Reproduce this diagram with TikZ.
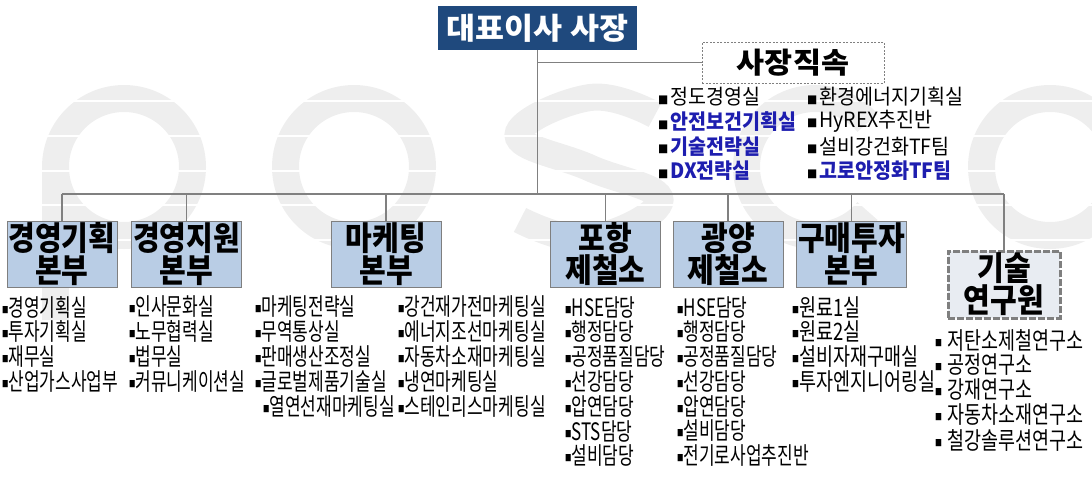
\documentclass[tikz,border=0pt]{standalone}
\usepackage{fontspec}
\usepackage{xcolor}
\usetikzlibrary{positioning}

\newfontfamily\krtop{Noto Sans CJK KR}[FakeStretch=1.05]
\newfontfamily\krhead{Noto Sans CJK KR}[FakeStretch=0.88]
\newfontfamily\krstaff{Noto Sans CJK KR}[FakeStretch=0.93]
\newfontfamily\krlist{Noto Sans CJK KR}[FakeStretch=0.71]
\newfontfamily\krwide{Noto Sans CJK KR}[FakeStretch=0.77]

\definecolor{ceoblue}{RGB}{31,73,125}
\definecolor{boxblue}{RGB}{185,205,229}
\definecolor{boxline}{RGB}{127,127,127}
\definecolor{rdfill}{RGB}{232,236,242}
\definecolor{staffblue}{RGB}{30,30,175}
\definecolor{linegray}{RGB}{128,128,128}
\definecolor{wmgray}{RGB}{238,238,238}

\newcommand\bul{\raisebox{3pt}{\fontsize{9}{9}\selectfont ■}}
\newcommand\sbul{\raisebox{0.5pt}{\fontsize{11}{11}\selectfont ■}\hspace{2pt}}
\newcommand\hl[1]{{\bfseries\color{staffblue}#1}}
\setlength{\lineskiplimit}{-100pt}

\begin{document}
\begin{tikzpicture}[
  x=1pt, y=-1pt,
  ceo/.style={
    rectangle,
    fill=ceoblue,
    text=white,
    inner sep=0pt,
    minimum width=199,
    minimum height=44,
    font=\krtop\bfseries\fontsize{30}{32}\selectfont
  },
  staffbox/.style={
    rectangle,
    draw=linegray,
    dash pattern=on 2pt off 1.5pt,
    line width=0.8pt,
    fill=white,
    inner sep=0pt,
    minimum width=182,
    minimum height=41,
    font=\krtop\bfseries\fontsize{29}{31}\selectfont
  },
  unit/.style={
    rectangle,
    draw=boxline,
    line width=1pt,
    fill=boxblue,
    align=center,
    inner sep=0pt,
    minimum width=110,
    minimum height=66,
    font=\krhead\bfseries\fontsize{33}{32}\selectfont
  },
  lab/.style={
    unit,
    fill=rdfill,
    line width=3pt,
    dash pattern=on 7pt off 2pt,
    minimum width=112,
    minimum height=67
  },
  conn/.style={draw=linegray, line width=1.2pt},
  item/.style={anchor=west, inner sep=0pt, font=\krlist\fontsize{24}{26}\selectfont},
  witem/.style={item, font=\krwide\fontsize{24}{26}\selectfont},
  sitem/.style={anchor=west, inner sep=0pt, font=\krstaff\fontsize{21}{24}\selectfont},
  wm/.style={draw=wmgray, line width=27pt}
]
\useasboundingbox (0,0) rectangle (1092,482);

% watermark
\draw[wm] (124,167) circle[radius=68.5];
\fill[wmgray] (42,167) rectangle (69,320);
\draw[wm] (354,167) circle[radius=68.5];
\draw[wm] plot[smooth, tension=0.7] coordinates {(655,115) (590,97.5) (518,135) (590,168) (660,200) (590,238.5) (520,220)};
\draw[wm] ([shift={(40:68.5)}]815,167) arc[start angle=40, end angle=320, radius=68.5];
\draw[wm] (1050,167) circle[radius=68.5];
\foreach \y in {101,136,171,205,240}
  \draw[white, line width=2.5pt] (0,\y) -- (1092,\y);

% top
\node[ceo] (ceo) at (537.5,28) {대표이사 사장};
\node[staffbox] (staff) at (793,62.5) {사장직속};

\foreach \t [count=\i from 0] in {정도경영실,\hl{안전보건기획실},\hl{기술전략실},\hl{DX전략실}}
  \node[sitem] (sa-\i) at (658,{97+24.7*\i}) {\sbul\t};
\foreach \t [count=\i from 0] in {환경에너지기획실,HyREX추진반,설비강건화TF팀,\hl{고로안정화TF팀}}
  \node[sitem] (sb-\i) at (807,{97+24.7*\i}) {\sbul\t};

% units
\node[unit] (gp) at (62,254) {경영기획\\본부};
\node[unit] (gs) at (186.5,254) {경영지원\\본부};
\node[unit] (mk) at (386,254) {마케팅\\본부};
\node[unit] (ph) at (605.5,254) {포항\\제철소};
\node[unit] (gy) at (728,254) {광양\\제철소};
\node[unit] (bt) at (851.5,254) {구매투자\\본부};
\node[lab] (rd) at (1004,284.5) {기술\\연구원};

% lines
\coordinate (busL) at (62,194);
\coordinate (busR) at (1004,194);
\draw[conn] (busL) -- (busR);
\draw[conn] (ceo.south) -- (ceo.south |- busL);
\draw[conn] (ceo.south |- staff.west) -- (staff.west);
\foreach \b in {gp,gs,mk,ph,gy,bt,rd}
  \draw[conn] (\b.north |- busL) -- (\b.north);

% lists
\foreach \t [count=\i from 0] in {경영기획실,투자기획실,재무실,산업가스사업부}
  \node[item] (gp-\i) at (2,{307+24.8*\i}) {\bul\t};
\foreach \t [count=\i from 0] in {인사문화실,노무협력실,법무실,커뮤니케이션실}
  \node[item] (gs-\i) at (129,{307+24.8*\i}) {\bul\t};
\foreach \t [count=\i from 0] in {마케팅전략실,무역통상실,판매생산조정실,글로벌제품기술실}
  \node[item] (mka-\i) at (255,{307+24.8*\i}) {\bul\t};
\node[item] (mka-4) at (263,{307+24.8*4}) {\bul 열연선재마케팅실};
\foreach \t [count=\i from 0] in {강건재가전마케팅실,에너지조선마케팅실,자동차소재마케팅실,냉연마케팅실,스테인리스마케팅실}
  \node[item] (mkb-\i) at (398,{307+24.8*\i}) {\bul\t};
\foreach \t [count=\i from 0] in {HSE담당,행정담당,공정품질담당,선강담당,압연담당,STS담당,설비담당}
  \node[item] (ph-\i) at (565,{307+24.8*\i}) {\bul\t};
\foreach \t [count=\i from 0] in {HSE담당,행정담당,공정품질담당,선강담당,압연담당,설비담당,전기로사업추진반}
  \node[item] (gy-\i) at (677,{307+24.8*\i}) {\bul\t};
\foreach \t [count=\i from 0] in {원료1실,원료2실,설비자재구매실,투자엔지니어링실}
  \node[witem] (bt-\i) at (792,{307+24.8*\i}) {\bul\t};
\foreach \t [count=\i from 0] in {저탄소제철연구소,공정연구소,강재연구소,자동차소재연구소,철강솔루션연구소}
  \node[witem] (rd-\i) at (935,{340+25*\i}) {\bul\hspace{5pt}\t};

\end{tikzpicture}
\end{document}
